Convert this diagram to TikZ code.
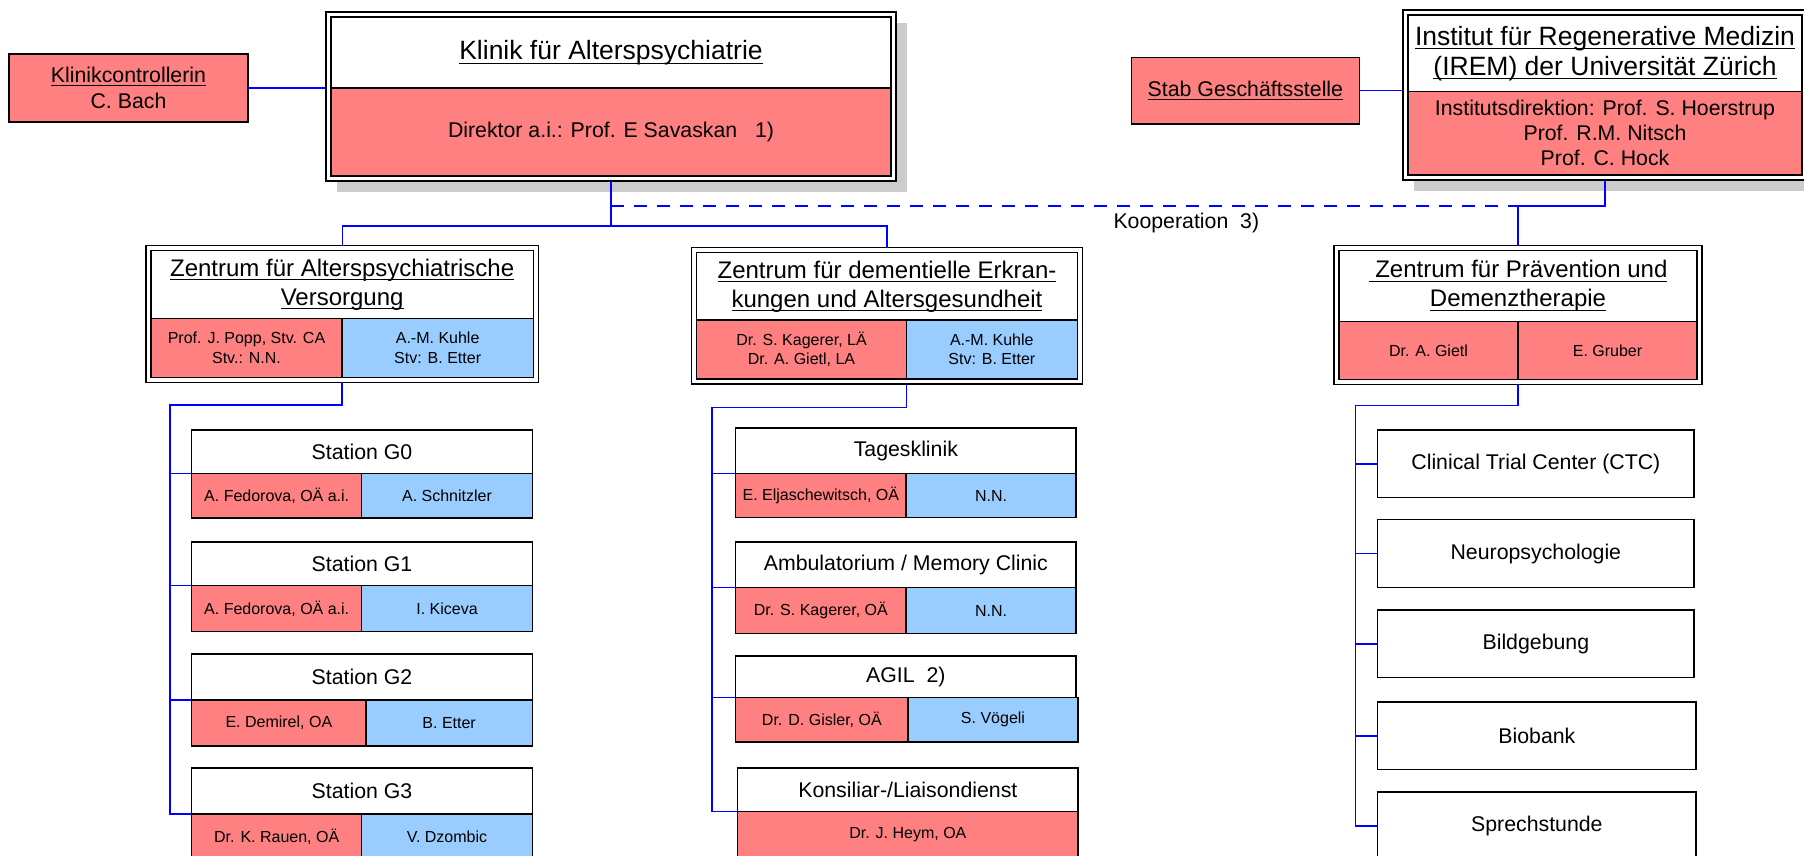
\documentclass[tikz,border=0pt]{standalone}
\usepackage{fontspec}
\setmainfont{Liberation Sans}
\usetikzlibrary{positioning, fit, backgrounds, shadows}

\definecolor{redfill}{HTML}{FF8080}
\definecolor{bluefill}{HTML}{99CCFF}
\definecolor{linkblue}{HTML}{0000FF}

\newsavebox{\ulbox}
\newcommand{\undl}[1]{\sbox{\ulbox}{#1}\rlap{\vrule width\wd\ulbox height -0.12em depth 0.16em}\usebox{\ulbox}}

\begin{document}
\begin{tikzpicture}[x=1pt, y=-1pt,
        every node/.style={inner sep=0pt, outer sep=0pt, align=center,
            font=\fontsize{21.3}{25.5}\selectfont},
        whitebox/.style={draw, line width=1.5pt, fill=white},
        bigtitle/.style={whitebox, font=\fontsize{26.5}{30}\selectfont},
        ztitle/.style={whitebox, font=\fontsize{24}{29}\selectfont},
        redbox/.style={whitebox, fill=redfill},
        redcell/.style={whitebox, fill=redfill, font=\fontsize{16}{19.5}\selectfont},
        bluecell/.style={whitebox, fill=bluefill, font=\fontsize{16}{19.5}\selectfont},
        dframe/.style={draw, line width=1.5pt, fill=white, inner sep=5pt},
        boxshadow/.style={drop shadow={shadow xshift=11pt, shadow yshift=-11pt, fill=black!20, opacity=1}},
        link/.style={draw=linkblue, line width=1.3pt},
        coop/.style={link, dash pattern=on 13pt off 10pt}
    ]
    \useasboundingbox (0,0) rectangle (1804,855);

    % Klinikleitung
    \node[redbox, minimum width=239pt, minimum height=68pt, anchor=north west] (ctrl) at (9,54)
        {\undl{Klinikcontrollerin}\\C. Bach};
    \node[bigtitle, minimum width=560pt, minimum height=71pt, anchor=north west] (mainT) at (331,17)
        {\undl{Klinik für Alterspsychiatrie}};
    \node[redbox, minimum width=560pt, minimum height=88pt, anchor=north west] (mainB) at (mainT.south west)
        {Direktor a.i.: Prof. E Savaskan\ \ \ 1)};

    % IREM
    \node[redbox, minimum width=228pt, minimum height=66.7pt, anchor=north west] (stab) at (1131.4,57.3)
        {\undl{Stab Geschäftsstelle}};
    \node[bigtitle, minimum width=394pt, minimum height=76.7pt, anchor=north west] (iremT) at (1408,15)
        {\undl{Institut für Regenerative Medizin}\\\undl{(IREM) der Universität Zürich}};
    \node[redbox, minimum width=394pt, minimum height=83.3pt, anchor=north west, font=\fontsize{21.3}{25}\selectfont] (iremB) at (iremT.south west)
        {Institutsdirektion: Prof. S. Hoerstrup\\Prof. R.M. Nitsch\\Prof. C. Hock};

    % Zentren
    \node[ztitle, minimum width=382.3pt, minimum height=67.6pt, anchor=north west] (zAT) at (151,250.7)
        {\undl{Zentrum für Alterspsychiatrische}\\\undl{Versorgung}};
    \node[redcell, minimum width=191pt, minimum height=59pt, anchor=north west] (zAl) at (zAT.south west)
        {Prof. J. Popp, Stv. CA\\Stv.: N.N.};
    \node[bluecell, minimum width=191.3pt, minimum height=59pt, right=0pt of zAl] (zAr)
        {A.-M. Kuhle\\Stv: B. Etter};

    \node[ztitle, minimum width=380.6pt, minimum height=67.3pt, anchor=north west] (zBT) at (696.7,252.7)
        {\undl{Zentrum für dementielle Erkran-}\\\undl{kungen und Altersgesundheit}};
    \node[redcell, minimum width=209.6pt, minimum height=59pt, anchor=north west] (zBl) at (zBT.south west)
        {Dr. S. Kagerer, LÄ\\Dr. A. Gietl, LA};
    \node[bluecell, minimum width=171pt, minimum height=59pt, right=0pt of zBl] (zBr)
        {A.-M. Kuhle\\Stv: B. Etter};

    \node[ztitle, minimum width=358pt, minimum height=71pt, anchor=north west] (zCT) at (1339,250.7)
        {\undl{\ Zentrum für Prävention und}\\\undl{Demenztherapie}};
    \node[redcell, minimum width=179pt, minimum height=57.6pt, anchor=north west] (zCl) at (zCT.south west)
        {Dr. A. Gietl};
    \node[redcell, minimum width=179pt, minimum height=57.6pt, right=0pt of zCl] (zCr)
        {E. Gruber};

    % Stationen
    \node[whitebox, minimum width=340.6pt, minimum height=43.5pt, anchor=north west] (g0) at (191.7,430) {Station G0};
    \node[redcell, minimum width=170pt, minimum height=44.5pt, anchor=north west] (g0a) at (g0.south west) {A. Fedorova, OÄ a.i.};
    \node[bluecell, minimum width=170.6pt, minimum height=44.5pt, right=0pt of g0a] (g0b) {A. Schnitzler};
    \node[whitebox, minimum width=340.6pt, minimum height=43.7pt, anchor=north west] (g1) at (191.7,542) {Station G1};
    \node[redcell, minimum width=170pt, minimum height=46pt, anchor=north west] (g1a) at (g1.south west) {A. Fedorova, OÄ a.i.};
    \node[bluecell, minimum width=170.6pt, minimum height=46pt, right=0pt of g1a] (g1b) {I. Kiceva};
    \node[whitebox, minimum width=340.6pt, minimum height=46pt, anchor=north west] (g2) at (191.7,654) {Station G2};
    \node[redcell, minimum width=174.3pt, minimum height=46pt, anchor=north west] (g2a) at (g2.south west) {E. Demirel, OA};
    \node[bluecell, minimum width=166.3pt, minimum height=46pt, right=0pt of g2a] (g2b) {B. Etter};
    \node[whitebox, minimum width=340.6pt, minimum height=46pt, anchor=north west] (g3) at (191.7,768) {Station G3};
    \node[redcell, minimum width=170pt, minimum height=46pt, anchor=north west] (g3a) at (g3.south west) {Dr. K. Rauen, OÄ};
    \node[bluecell, minimum width=170.6pt, minimum height=46pt, right=0pt of g3a] (g3b) {V. Dzombic};

    % Ambulante Angebote
    \node[whitebox, minimum width=340.3pt, minimum height=45.7pt, anchor=north west] (tk) at (735.7,428) {Tagesklinik};
    \node[redcell, minimum width=170.3pt, minimum height=44pt, anchor=north west] (tka) at (tk.south west) {E. Eljaschewitsch, OÄ};
    \node[bluecell, minimum width=170pt, minimum height=44pt, right=0pt of tka] (tkb) {N.N.};
    \node[whitebox, minimum width=340.3pt, minimum height=45.7pt, anchor=north west] (amb) at (735.7,542) {Ambulatorium / Memory Clinic};
    \node[redcell, minimum width=170.3pt, minimum height=45.6pt, anchor=north west] (amba) at (amb.south west) {Dr. S. Kagerer, OÄ};
    \node[bluecell, minimum width=170pt, minimum height=45.6pt, right=0pt of amba] (ambb) {N.N.};
    \node[whitebox, minimum width=340.3pt, minimum height=41.7pt, anchor=north west] (agil) at (735.7,656) {AGIL\ \ 2)};
    \node[redcell, minimum width=172.3pt, minimum height=44.3pt, anchor=north west] (agila) at (agil.south west) {Dr. D. Gisler, OÄ};
    \node[bluecell, minimum width=170pt, minimum height=44.3pt, right=0pt of agila] (agilb) {S. Vögeli};
    \node[whitebox, minimum width=340.3pt, minimum height=43.7pt, anchor=north west] (kons) at (737.7,768) {Konsiliar-/Liaisondienst};
    \node[redcell, minimum width=340.3pt, minimum height=46pt, anchor=north west] (konsa) at (kons.south west) {Dr. J. Heym, OA};

    % Praevention
    \node[whitebox, minimum width=316.3pt, minimum height=67.7pt, anchor=north west] (ctc) at (1377.7,430) {Clinical Trial Center (CTC)};
    \node[whitebox, minimum width=316.3pt, minimum height=68pt, anchor=north west] (neuro) at (1377.7,519.7) {Neuropsychologie};
    \node[whitebox, minimum width=316.3pt, minimum height=67.7pt, anchor=north west] (bild) at (1377.7,610) {Bildgebung};
    \node[whitebox, minimum width=318.3pt, minimum height=67.7pt, anchor=north west] (bio) at (1377.7,702) {Biobank};
    \node[whitebox, minimum width=318.3pt, minimum height=68pt, anchor=north west] (sprech) at (1377.7,792) {Sprechstunde};

    \node[anchor=west] (koop) at (1113.5,223) {Kooperation\ \ 3)};

    % Doppelrahmen
    \begin{scope}[on background layer]
        \node[dframe, boxshadow, fit=(mainT)(mainB)] (main) {};
        \node[dframe, boxshadow, fit=(iremT)(iremB)] (irem) {};
        \node[dframe, fit=(zAT)(zAl)(zAr)] (zA) {};
        \node[dframe, fit=(zBT)(zBl)(zBr)] (zB) {};
        \node[dframe, fit=(zCT)(zCl)(zCr)] (zC) {};
    \end{scope}

    % Verbindungen
    \draw[link] (ctrl.east) -- (ctrl.east -| main.west);
    \draw[link] (stab.east) -- (stab.east -| irem.west);
    \draw[link] (main.south) -- ++(0,45) coordinate (mhub);
    \draw[link] (zA.north) |- (mhub) -| (zB.north);
    \draw[link] (irem.south) -- ++(0,26) coordinate (ihub) -| (zC.north);
    \draw[coop] (main.south |- ihub) -- (ihub -| zC.north);

    \coordinate (sA) at (170,405);
    \coordinate (sB) at (712,407.7);
    \coordinate (sC) at (1355.7,405.7);
    \draw[link] (zAl.east |- zA.south) |- (sA) -- (sA |- g3a.north west) -- (g3a.north west);
    \draw[link] (zBl.east |- zB.south) |- (sB) -- (sB |- konsa.north west) -- (konsa.north west);
    \draw[link] (zCl.east |- zC.south) |- (sC) -- (sC |- sprech.west) -- (sprech.west);
    \foreach \s in {g0a, g1a, g2a} {
        \draw[link] (sA |- \s.north west) -- (\s.north west);
    }
    \foreach \s in {tka, amba, agila} {
        \draw[link] (sB |- \s.north west) -- (\s.north west);
    }
    \foreach \s in {ctc, neuro, bild, bio} {
        \draw[link] (sC |- \s.west) -- (\s.west);
    }
\end{tikzpicture}
\end{document}
